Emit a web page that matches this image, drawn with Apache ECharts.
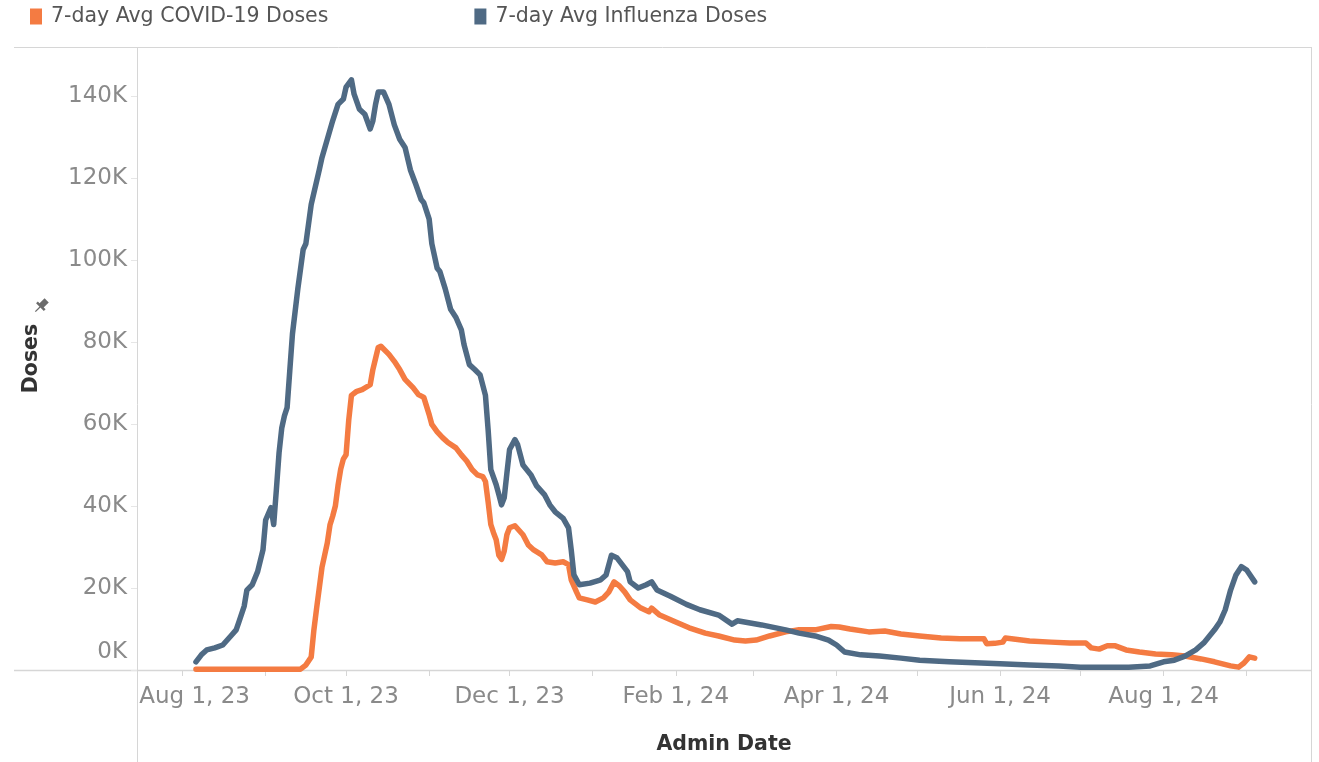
<!DOCTYPE html>
<html>
<head>
<meta charset="utf-8">
<script src="https://cdn.jsdelivr.net/npm/echarts@6/dist/echarts.min.js"></script>
<style>
  html, body { margin: 0; padding: 0; background: #fff; }
  #chart { width: 1319px; height: 762px; }
</style>
</head>
<body>
<div id="chart"></div>
<script>
// 7-day averages (doses)
var fluDates = ['2023-08-06','2023-08-08','2023-08-10','2023-08-13','2023-08-16','2023-08-19','2023-08-21','2023-08-22','2023-08-24','2023-08-25',
  '2023-08-27','2023-08-29','2023-08-31','2023-09-01','2023-09-03','2023-09-04','2023-09-05','2023-09-06','2023-09-07','2023-09-08',
  '2023-09-09','2023-09-10','2023-09-11','2023-09-13','2023-09-15','2023-09-16','2023-09-18','2023-09-21','2023-09-22','2023-09-24',
  '2023-09-26','2023-09-28','2023-09-30','2023-10-01','2023-10-03','2023-10-04','2023-10-06','2023-10-08','2023-10-10','2023-10-11',
  '2023-10-12','2023-10-13','2023-10-15','2023-10-17','2023-10-19','2023-10-21','2023-10-23','2023-10-25','2023-10-27','2023-10-29',
  '2023-10-30','2023-11-01','2023-11-02','2023-11-04','2023-11-05','2023-11-07','2023-11-09','2023-11-11','2023-11-13','2023-11-14',
  '2023-11-16','2023-11-18','2023-11-20','2023-11-22','2023-11-23','2023-11-24','2023-11-26','2023-11-27','2023-11-28','2023-11-29',
  '2023-11-30','2023-12-01','2023-12-03','2023-12-04','2023-12-06','2023-12-09','2023-12-11','2023-12-14','2023-12-16','2023-12-18',
  '2023-12-21','2023-12-23','2023-12-24','2023-12-25','2023-12-27','2023-12-31','2024-01-04','2024-01-06','2024-01-08','2024-01-10',
  '2024-01-12','2024-01-14','2024-01-15','2024-01-18','2024-01-21','2024-01-23','2024-01-25','2024-01-30','2024-02-05','2024-02-10',
  '2024-02-17','2024-02-22','2024-02-24','2024-03-04','2024-03-13','2024-03-18','2024-03-24','2024-03-29','2024-04-01','2024-04-04',
  '2024-04-10','2024-04-17','2024-04-25','2024-05-02','2024-05-13','2024-05-25','2024-06-01','2024-06-12','2024-06-23','2024-07-01',
  '2024-07-08','2024-07-19','2024-07-27','2024-08-01','2024-08-05','2024-08-09','2024-08-13','2024-08-16','2024-08-20','2024-08-22',
  '2024-08-24','2024-08-26','2024-08-28','2024-08-30','2024-09-01','2024-09-04'];
var fluDoses = [2000,3700,4900,5400,6100,8300,9800,11700,15600,19500,
  20800,24000,29300,36600,39600,35500,44000,53000,59000,62000,
  64000,73000,82000,93000,102600,104000,113600,122000,125000,129500,
  134000,138000,139300,142200,144000,140500,136800,135600,132000,134000,
  138000,141000,141000,138000,133000,129500,127500,122000,118500,114800,
  114000,110000,104000,98000,97200,93000,88000,86000,83000,79400,
  74500,73300,72000,67000,58600,48900,45200,42800,40300,42000,
  48000,53800,56200,55000,50000,47600,45000,42800,40300,38600,
  37000,34700,29300,23200,20800,21200,22000,23200,28000,27400,
  25700,24000,21500,20000,20800,21500,19500,18000,16000,14700,
  13400,11200,12000,11000,9800,9000,8300,7300,6100,4400,
  3700,3400,2900,2400,2000,1700,1500,1200,1000,700,
  700,700,1000,2000,2400,3400,4900,6600,9800,11700,
  14700,19500,23200,25200,24400,21500];

var covidDates = ['2023-08-06','2023-09-14','2023-09-16','2023-09-18','2023-09-19','2023-09-20','2023-09-21','2023-09-22','2023-09-23','2023-09-24',
  '2023-09-25','2023-09-26','2023-09-27','2023-09-28','2023-09-29','2023-09-30','2023-10-01','2023-10-02','2023-10-03','2023-10-05',
  '2023-10-07','2023-10-10','2023-10-11','2023-10-12','2023-10-13','2023-10-14','2023-10-17','2023-10-19','2023-10-21','2023-10-23',
  '2023-10-26','2023-10-28','2023-10-30','2023-11-01','2023-11-02','2023-11-04','2023-11-06','2023-11-08','2023-11-11','2023-11-13',
  '2023-11-15','2023-11-17','2023-11-19','2023-11-21','2023-11-22','2023-11-23','2023-11-24','2023-11-25','2023-11-26','2023-11-27',
  '2023-11-28','2023-11-29','2023-11-30','2023-12-01','2023-12-03','2023-12-06','2023-12-08','2023-12-10','2023-12-13','2023-12-15',
  '2023-12-18','2023-12-21','2023-12-23','2023-12-24','2023-12-26','2023-12-27','2023-12-30','2024-01-02','2024-01-05','2024-01-07',
  '2024-01-09','2024-01-11','2024-01-13','2024-01-15','2024-01-19','2024-01-22','2024-01-23','2024-01-26','2024-02-01','2024-02-06',
  '2024-02-12','2024-02-17','2024-02-23','2024-02-27','2024-03-02','2024-03-07','2024-03-13','2024-03-18','2024-03-24','2024-03-30',
  '2024-04-02','2024-04-06','2024-04-13','2024-04-19','2024-04-25','2024-05-02','2024-05-10','2024-05-17','2024-05-26','2024-05-27',
  '2024-05-30','2024-06-02','2024-06-03','2024-06-12','2024-06-20','2024-06-27','2024-07-03','2024-07-05','2024-07-08','2024-07-11',
  '2024-07-14','2024-07-18','2024-07-23','2024-07-29','2024-08-04','2024-08-09','2024-08-15','2024-08-20','2024-08-26','2024-08-29',
  '2024-08-31','2024-09-02','2024-09-04'];
var covidDoses = [200,200,1200,3200,9800,15000,20000,25000,28000,31000,
  35400,37500,40000,45000,49000,51500,52500,61000,67000,68000,
  68400,69600,73300,76000,78700,79000,77000,75300,73300,70900,
  68900,67200,66500,62300,59900,58100,56700,55500,54200,52500,
  51000,48900,47600,47200,46000,41000,35500,33500,31800,28000,
  27000,29000,33000,34700,35200,33000,30500,29300,28100,26400,
  26100,26400,25700,22000,19000,17600,17100,16600,17600,19000,
  21500,20500,19000,17100,15100,14200,15100,13400,11700,10300,
  9000,8300,7300,7100,7300,8300,9300,9800,9800,10600,
  10500,10000,9300,9500,8800,8300,7800,7600,7600,6400,
  6500,6800,7800,7100,6800,6600,6600,5400,5100,5900,
  5900,4900,4400,3900,3700,3400,2700,2000,1000,700,
  1700,3200,2900];

// axis ticks
var monthTicks = ['2023-08-01','2023-09-01','2023-10-01','2023-11-01','2023-12-01','2024-01-01','2024-02-01',
  '2024-03-01','2024-04-01','2024-05-01','2024-06-01','2024-07-01','2024-08-01','2024-09-01'];
var labelTicks = ['2023-08-01','2023-10-01','2023-12-01','2024-02-01','2024-04-01','2024-06-01','2024-08-01'];
var yTicks = [0, 20000, 40000, 60000, 80000, 100000, 120000, 140000];
var monthNames = ['Jan','Feb','Mar','Apr','May','Jun','Jul','Aug','Sep','Oct','Nov','Dec'];

function ts(s) {
  var p = s.split('-');
  return new Date(+p[0], +p[1] - 1, +p[2]).getTime();
}
function pairs(dates, vals) {
  return dates.map(function (d, i) { return [ts(d), vals[i]]; });
}

var COVID = '#F47B42';
var FLU = '#4F6A84';
var FONT = 'DejaVu Sans';
var LABEL = '#8a8a8a';
var frame = '#d6d6d6';

var chart = echarts.init(document.getElementById('chart'));
chart.setOption({
  animation: false,
  legend: {
    left: 25, top: 1,
    icon: 'rect', itemWidth: 12, itemHeight: 16, itemGap: 146,
    textStyle: { fontFamily: FONT, fontSize: 20.5, color: '#555', padding: [0, 0, 0, 4] },
    data: ['7-day Avg COVID-19 Doses', '7-day Avg Influenza Doses']
  },
  grid: { left: 137, right: 8, top: 47, bottom: 92, outerBoundsMode: 'none', containLabel: false },
  xAxis: {
    type: 'value',
    min: ts('2023-07-15'), max: ts('2024-09-25'),
    name: 'Admin Date', nameLocation: 'middle', nameGap: 64,
    nameTextStyle: { fontFamily: FONT, fontSize: 20.5, fontWeight: 'bold', color: '#333' },
    axisLine: { show: false },
    splitLine: { show: false },
    axisTick: { show: true, length: 6, lineStyle: { color: frame }, customValues: monthTicks.map(ts) },
    axisLabel: {
      customValues: labelTicks.map(ts),
      margin: 16,
      fontFamily: FONT, fontSize: 23, color: LABEL,
      formatter: function (v) {
        var d = new Date(v);
        var txt = monthNames[d.getMonth()] + ' 1, ' + String(d.getFullYear()).slice(2);
        return d.getFullYear() === 2023 && d.getMonth() === 7 ? '{f|' + txt + '}' : txt;
      },
      rich: { f: { fontFamily: FONT, fontSize: 23, color: LABEL, padding: [0, 0, 0, 24] } }
    }
  },
  yAxis: {
    type: 'value',
    min: 0, max: 152000,
    name: 'Doses', nameLocation: 'middle', nameGap: 95, nameRotate: 90,
    nameTextStyle: { fontFamily: FONT, fontSize: 20.5, fontWeight: 'bold', color: '#333' },
    axisLine: { show: false },
    splitLine: { show: false },
    axisTick: { show: true, length: 6, lineStyle: { color: '#e6e6e6' }, customValues: yTicks },
    axisLabel: {
      customValues: yTicks,
      margin: 10,
      fontFamily: FONT, fontSize: 23, color: LABEL,
      formatter: function (v) {
        return v === 0 ? '{z|0K}' : (v / 1000) + 'K';
      },
      rich: { z: { fontFamily: FONT, fontSize: 23, color: LABEL, padding: [0, 0, 36, 0] } }
    }
  },
  graphic: [
    { type: 'line', shape: { x1: 14, y1: 47.5, x2: 1311, y2: 47.5 }, style: { stroke: frame, lineWidth: 1 } },
    { type: 'line', shape: { x1: 137.5, y1: 47, x2: 137.5, y2: 762 }, style: { stroke: frame, lineWidth: 1 } },
    { type: 'line', shape: { x1: 1311.5, y1: 47, x2: 1311.5, y2: 762 }, style: { stroke: frame, lineWidth: 1 } },
    { type: 'line', shape: { x1: 14, y1: 670.5, x2: 1311, y2: 670.5 }, style: { stroke: frame, lineWidth: 1.5 } },
    // little pin beside the y axis title
    {
      type: 'group', x: 41, y: 306, rotation: -Math.PI / 4,
      children: [
        { type: 'rect', shape: { x: -3, y: -8, width: 6, height: 8 }, style: { fill: '#6b6b6b' } },
        { type: 'rect', shape: { x: -5.5, y: -1, width: 11, height: 2.5 }, style: { fill: '#6b6b6b' } },
        { type: 'line', shape: { x1: 0, y1: 1, x2: 0, y2: 8 }, style: { stroke: '#6b6b6b', lineWidth: 1.3 } }
      ]
    }
  ],
  series: [
    {
      name: '7-day Avg COVID-19 Doses', type: 'line', showSymbol: false, z: 3,
      itemStyle: { color: COVID },
      lineStyle: { color: COVID, width: 5.5, cap: 'round', join: 'round' },
      data: pairs(covidDates, covidDoses)
    },
    {
      name: '7-day Avg Influenza Doses', type: 'line', showSymbol: false, z: 4,
      itemStyle: { color: FLU },
      lineStyle: { color: FLU, width: 5.5, cap: 'round', join: 'round' },
      data: pairs(fluDates, fluDoses)
    }
  ]
});
</script>
</body>
</html>
